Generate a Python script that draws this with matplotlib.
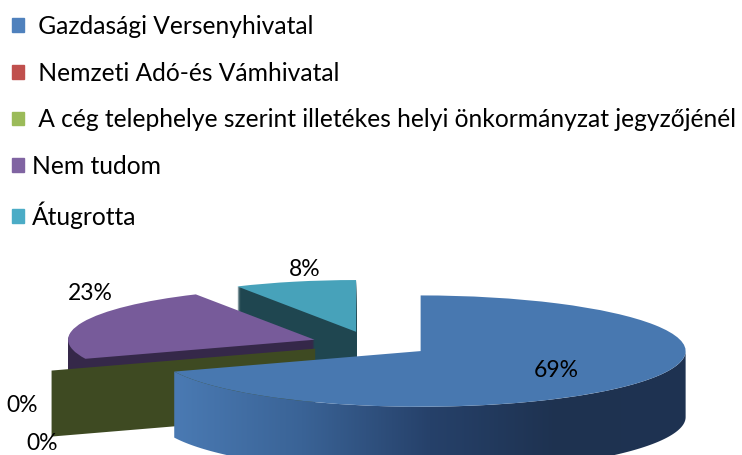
import numpy as np
import matplotlib.pyplot as plt
from matplotlib.patches import Polygon, Patch
from matplotlib.colors import LinearSegmentedColormap

plt.rcParams["font.family"] = ["Lato", "DejaVu Sans"]

# data
labels = [" Gazdasági Versenyhivatal",
          " Nemzeti Adó-és Vámhivatal",
          " A cég telephelye szerint illetékes helyi önkormányzat jegyzőjénél",
          "Nem tudom",
          "Átugrotta"]
shares = [69, 0, 0, 23, 8]

legend_colors = ["#4f81bd", "#c0504d", "#9bbb59", "#8064a2", "#4bacc6"]
top_colors = ["#4878b0", "#b94a47", "#8fae50", "#775b9a", "#47a2ba"]
side_colors = ["#25406a", "#6b2826", "#3e4a22", "#352849", "#1f4650"]
zorders = [4, 3, 3.1, 2, 1]
# back slices drawn a bit smaller to fake perspective
depth_scale = [1, 1, 1, 0.93, 0.93]

W, H = 742, 455
S = 0.21       # vertical squash of the pie (screen px per y unit)
R = 265        # pie radius in px
DEPTH = 66     # thickness in px
EXPL = 60      # explode offset in px
N_LAYERS = 66


def to_data(px, py):
    return px, (H - py) / S


fig = plt.figure(figsize=(W / 100, H / 100), dpi=100)
ax = fig.add_axes([0, 0, 1, 1])

cx, cy = to_data(371, 344)
dz = DEPTH / S

# side layers, bottom to top
for k in range(N_LAYERS, 0, -1):
    off = dz * k / N_LAYERS
    wedges, _ = ax.pie(shares, startangle=90, counterclock=False, radius=R,
                       center=(cx, cy - off), explode=[EXPL] * len(shares),
                       colors=side_colors, wedgeprops=dict(linewidth=0))
    for i, w in enumerate(wedges):
        w.set_zorder(zorders[i])
        w.set_radius(R * depth_scale[i])
        if i == 0:
            w.set_visible(False)

# top faces
wedges, _, pcts = ax.pie(shares, startangle=90, counterclock=False, radius=R,
                         center=(cx, cy), explode=[EXPL] * len(shares),
                         colors=top_colors, wedgeprops=dict(linewidth=0),
                         autopct="%1.0f%%", pctdistance=0.62,
                         textprops=dict(fontsize=16.5, color="black"))
for i, w in enumerate(wedges):
    w.set_zorder(zorders[i] + 0.5)
    w.set_radius(R * depth_scale[i])

# outer wall of the big slice with a gradient
big = wedges[0]
bx, by = big.center
t1, t2 = min(big.theta1, big.theta2), max(big.theta1, big.theta2)
ang = np.radians(np.linspace(max(t1, -180), min(t2, 0), 200))
top = np.column_stack([bx + R * np.cos(ang), by + R * np.sin(ang)])
bot = top - [0, dz]
wall = Polygon(np.vstack([top, bot[::-1]]), closed=True, transform=ax.transData)
cmap = LinearSegmentedColormap.from_list(
    "wall", ["#4a7ab3", "#3a6396", "#26416a", "#1e3250", "#1f3352"])
grad = np.linspace(0, 1, 256).reshape(1, -1)
im = ax.imshow(grad, cmap=cmap, aspect="auto", zorder=4.2,
               extent=(top[:, 0].min(), top[:, 0].max(), bot[:, 1].min(), top[:, 1].max()))
im.set_clip_path(wall)

# cut face of the zero slice
g = wedges[2]
gx, gy = g.center
gt = np.radians(g.theta1)
reach = R * 1.07
face = [(gx, gy), (gx + reach * np.cos(gt), gy + reach * np.sin(gt)),
        (gx + reach * np.cos(gt), gy + reach * np.sin(gt) - dz), (gx, gy - dz)]
ax.add_patch(Polygon(face, closed=True, facecolor=side_colors[2],
                     linewidth=0, zorder=3.5))

# percentage labels
label_pos = [None, (22, 405), (42, 443), (90, 293), (305, 270)]
for t, p in zip(pcts, label_pos):
    t.set_zorder(10)
    if p is not None:
        t.set_position(to_data(*p))

ax.set_xlim(0, W)
ax.set_ylim(0, H / S)
ax.set_aspect("auto")
ax.axis("off")

handles = [Patch(color=c) for c in legend_colors]
fig.legend(handles, labels, loc="upper left", bbox_to_anchor=(12 / W, 1 - 15 / H),
           frameon=False, fontsize=17.7, handlelength=0.47, handleheight=0.47,
           handletextpad=0.35, labelspacing=0.96, borderaxespad=0, borderpad=0)

fig.savefig("out.png", dpi=100)
